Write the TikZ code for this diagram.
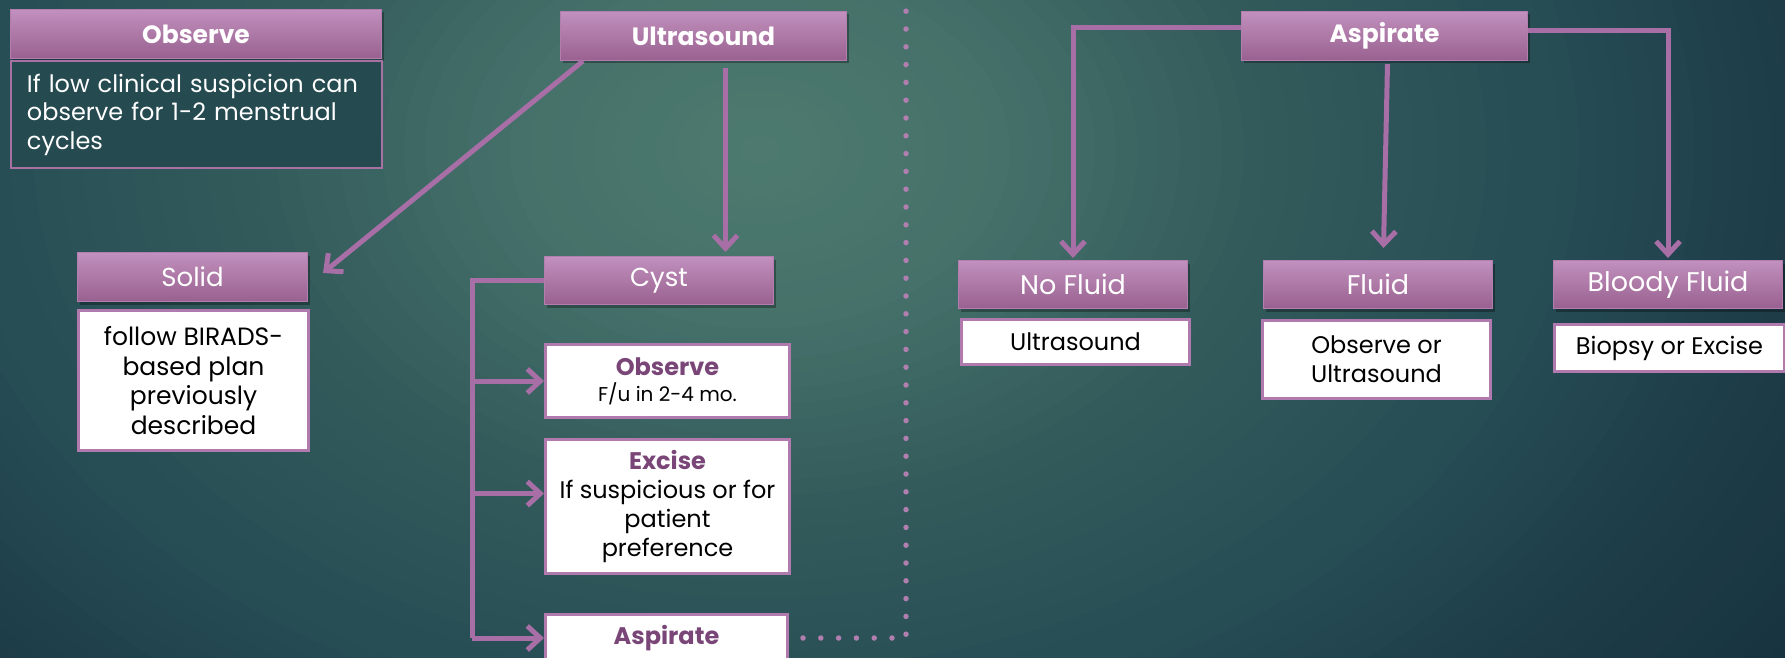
\documentclass[tikz,border=0pt]{standalone}
\usepackage{fontspec}
\setmainfont{Poppins}
\usetikzlibrary{arrows.meta,calc,shadows}
\definecolor{hdrtop}{HTML}{C190BE}
\definecolor{hdrbot}{HTML}{99618F}
\definecolor{hdrline}{HTML}{B47DB0}
\definecolor{lnc}{HTML}{A86EA6}
\definecolor{boxline}{HTML}{B07AAE}
\definecolor{purp}{HTML}{7A4678}
\definecolor{dotc}{HTML}{B07FB0}
\definecolor{obsfill}{HTML}{254A50}
\definecolor{obsline}{HTML}{A871A4}
\definecolor{bgcA}{HTML}{4E7A6F}
\definecolor{bgcB}{HTML}{45716A}
\definecolor{bgcC}{HTML}{335B5B}
\definecolor{bgcF}{HTML}{274D55}
\definecolor{bgcG}{HTML}{1D3D49}
\definecolor{bgcH}{HTML}{17313E}
\newcommand\hfont{\fontsize{26}{30}\selectfont}
\newcommand\bhfont{\fontsize{25}{30}\selectfont}
\newcommand\bodyfont{\fontsize{24}{29}\selectfont}
\begin{document}
\begin{tikzpicture}[x=1pt,y=-1pt,
  hdr/.style={draw=hdrline, line width=1pt, top color=hdrtop, bottom color=hdrbot, text=white,
    anchor=north west, inner sep=0pt, align=center, font=\hfont,
    drop shadow={shadow xshift=2pt,shadow yshift=-3pt,opacity=0.3,fill=black}},
  wbox/.style={draw=boxline, line width=3pt, fill=white, text=black, anchor=north west,
    inner sep=0pt, align=center, font=\bodyfont},
  conn/.style={draw=lnc, line width=5pt},
  arr/.style={conn, -{Straight Barb[length=13pt,width=24pt]}},
  dots/.style={draw=dotc, line width=5.5pt, line cap=round, dash pattern=on 0pt off 17.8pt}]
\useasboundingbox (0,0) rectangle (1785,658);
\begin{scope}
\clip (0,0) rectangle (1785,658);
\fill[bgcH] (0,0) rectangle (1785,658);
\foreach \ra/\rb/\ca/\cb in {1300/1030/bgcH/bgcG, 1030/800/bgcG/bgcF, 800/505/bgcF/bgcC, 505/250/bgcC/bgcB, 250/0/bgcB/bgcA}{
  \foreach \k in {0,...,11}{
    \pgfmathsetmacro\rr{\ra-(\ra-\rb)*\k/12}
    \pgfmathsetmacro\pp{100*\k/12}
    \fill[\cb!\pp!\ca] (760,150) ellipse [x radius=\rr, y radius=\rr/1.4];
  }
}
\end{scope}
% left part
\node[hdr, font=\bfseries\bhfont, minimum width=371pt, minimum height=49pt] (obsH) at (10,9) {Observe};
\node[draw=obsline, line width=2pt, fill=obsfill, text=white, anchor=north west, inner xsep=16pt, inner ysep=0pt,
  text width=339pt, align=left, minimum width=371pt, minimum height=107pt, font=\fontsize{24}{28.5}\selectfont] (obsB) at (10,60)
  {\mbox{If low clinical suspicion can}\\\mbox{observe for 1-2 menstrual}\\cycles};
\node[hdr, font=\bfseries\bhfont, minimum width=286pt, minimum height=49pt] (usH) at (560,11) {Ultrasound};
\node[hdr, minimum width=230pt, minimum height=49pt] (solH) at (77,252) {Solid};
\node[wbox, minimum width=230pt, minimum height=140pt, font=\fontsize{25}{29.5}\selectfont] (solB) at (77,309)
  {follow BIRADS-\\based plan\\previously\\described};
\node[hdr, minimum width=229pt, minimum height=48pt] (cyst) at (544,256) {Cyst};
\node[wbox, minimum width=244pt, minimum height=73pt] (obs2) at (544,343)
  {{\bfseries\color{purp}Observe}\\[-3pt]{\fontsize{20}{22}\selectfont F/u in 2-4 mo.}};
\node[wbox, minimum width=244pt, minimum height=134pt] (exc) at (544,438)
  {{\bfseries\color{purp}Excise}\\If suspicious or for\\patient\\preference};
\node[wbox, minimum width=242pt, minimum height=47pt] (asp2) at (544,613)
  {\bfseries\color{purp}Aspirate};
% right part
\node[hdr, font=\bfseries\bhfont, minimum width=286pt, minimum height=49pt] (aspH) at (1241,11) {Aspirate};
\node[hdr, font=\fontsize{27}{30}\selectfont, minimum width=229pt, minimum height=48pt] (nfH) at (958,260) {No Fluid};
\node[wbox, minimum width=228pt, minimum height=45pt] (nfB) at (960,318) {Ultrasound};
\node[hdr, font=\fontsize{27}{30}\selectfont, minimum width=229pt, minimum height=48pt] (flH) at (1263,260) {Fluid};
\node[wbox, minimum width=228pt, minimum height=78pt] (flB) at (1261,319) {Observe or\\Ultrasound};
\node[hdr, font=\fontsize{27}{30}\selectfont, minimum width=229pt, minimum height=48pt] (bfH) at (1553,260) {Bloody Fluid};
\node[wbox, minimum width=230pt, minimum height=47pt] (bfB) at (1553,323) {Biopsy or Excise};
% connectors
\draw[arr] ([xshift=23pt]usH.south west) -- ([xshift=15pt,yshift=-21pt]solH.north east);
\draw[arr] ([xshift=22pt,yshift=-7pt]usH.south) -- ($(usH.south |- cyst.north)+(22,-4)$);
\coordinate (tk) at ([xshift=-72pt]cyst.west);
\draw[conn] (cyst.west) -- (tk) -- (tk |- asp2.west);
\draw[arr] (tk |- obs2.west) -- (obs2.west);
\draw[arr] ($(tk |- exc.west)+(0,-13)$) -- ($(exc.west)+(0,-13)$);
\draw[arr] (tk |- asp2.west) -- (asp2.west);
\draw[arr] ([yshift=8.5pt]aspH.west) -| ([yshift=2pt]nfH.north);
\draw[arr] ([yshift=5.5pt]aspH.east) -| ([yshift=2pt]bfH.north);
\draw[arr] ([xshift=3pt,yshift=-3pt]aspH.south) -- ([xshift=5.5pt,yshift=12pt]flH.north);
% dotted separator
\coordinate (dtop) at (906,4);
\draw[dots] ([xshift=14pt]asp2.east) -- (dtop |- asp2.east) -- (dtop);
\end{tikzpicture}
\end{document}
